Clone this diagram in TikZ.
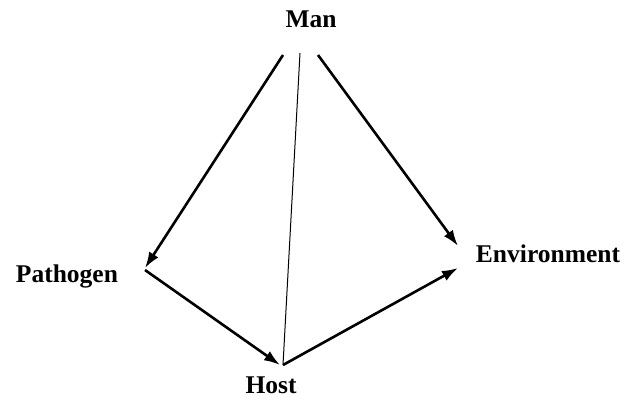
\documentclass[tikz,border=0pt]{standalone}
\usepackage{fontspec}
\setmainfont{Liberation Serif}
\usepackage{tikz}
\usetikzlibrary{arrows.meta, positioning, calc}

\begin{document}
\begin{tikzpicture}[
    x=1pt, y=-1pt,
    label/.style={inner sep=0pt, anchor=base, font=\fontsize{25.5}{30}\selectfont\bfseries},
    flowarrow/.style={-{Latex[length=16pt, width=11pt]}, line width=2.6pt, color=black},
    thinline/.style={line width=1pt, color=black},
  ]
  \useasboundingbox (0,0) rectangle (625,400);

  \node[label] (man) at (311,27) {Man};
  \node[label] (pathogen) at (67,282) {Pathogen};
  \node[label] (env) at (548,262) {Environment};
  \node[label] (host) at (271,393) {Host};

  \draw[flowarrow] ([shift={(-28,28)}]man.base) -- ([shift={(78,-14)}]pathogen.base);
  \draw[flowarrow] ([shift={(7,28)}]man.base) -- ([shift={(-90,-16)}]env.base);
  \draw[thinline] ([shift={(-11,26)}]man.base) -- ([shift={(12,-28)}]host.base);
  \draw[flowarrow] ([shift={(78,-12)}]pathogen.base) -- ([shift={(9,-28)}]host.base);
  \draw[flowarrow] ([shift={(12,-28)}]host.base) -- ([shift={(-90,6)}]env.base);
\end{tikzpicture}
\end{document}
